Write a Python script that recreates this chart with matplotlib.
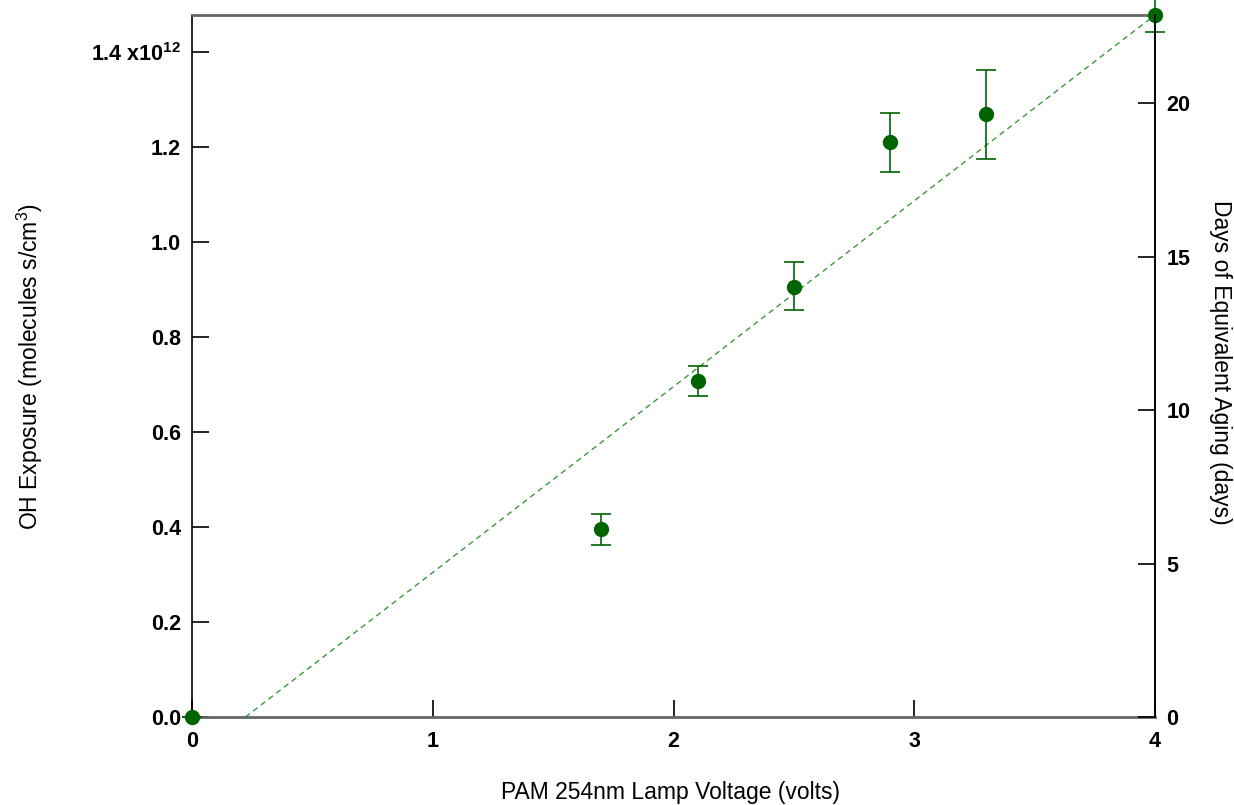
import matplotlib
matplotlib.use("Agg")
import matplotlib.pyplot as plt
import numpy as np

plt.rcParams['font.family'] = ['Liberation Sans', 'DejaVu Sans']
plt.rcParams['mathtext.fontset'] = 'custom'
plt.rcParams['mathtext.rm'] = 'Liberation Sans'
plt.rcParams['mathtext.bf'] = 'Liberation Sans:bold'

voltage = [0.0, 1.7, 2.1, 2.5, 2.9, 3.3, 4.0]
oh_exposure = [0.0, 0.395, 0.707, 0.905, 1.21, 1.27, 1.478]  # x1e12
err_low = [0.0, 0.033, 0.032, 0.048, 0.062, 0.095, 0.036]
err_high = [0.0, 0.032, 0.033, 0.052, 0.062, 0.093, 0.036]
fit_x = [0.222, 4.0]
fit_y = [0.0, 1.478]

y_ticks = [0.0, 0.2, 0.4, 0.6, 0.8, 1.0, 1.2, 1.4]
y_ticklabels = ['0.0', '0.2', '0.4', '0.6', '0.8', '1.0', '1.2', r'1.4 x10$^{\mathbf{12}}$']
x_ticks = [0, 1, 2, 3, 4]
right_ticks = [0, 5, 10, 15, 20]

green = '#006400'

fig = plt.figure(figsize=(12.34, 8.05), dpi=100)
ax = fig.add_axes([0.1556, 0.1093, 0.7804, 0.8721])
ax.plot(fit_x, fit_y, linestyle=(0, (4, 3)), color='#3a9a3a', lw=1.0, zorder=2)
ax.errorbar(voltage, oh_exposure, yerr=[err_low, err_high], fmt='o', color=green,
            ms=10, ecolor=green, elinewidth=1.2, capsize=7, capthick=1.2, zorder=3,
            clip_on=False)

ax.set_xlim(0, 4)
ax.set_ylim(0, 1.478)
ax.set_xticks(x_ticks)
ax.set_yticks(y_ticks)
ax.set_yticklabels(y_ticklabels)
ax.tick_params(axis='both', direction='in', length=12, width=1.2, labelsize=15.5, pad=8)
ax.tick_params(axis='x', pad=10)
for lab in ax.get_xticklabels() + ax.get_yticklabels():
    lab.set_fontweight('bold')
for s in ['top', 'bottom']:
    ax.spines[s].set_color('#666666')
    ax.spines[s].set_linewidth(2)
for s in ['left', 'right']:
    ax.spines[s].set_color('black')
    ax.spines[s].set_linewidth(1.2)

ax.set_xlabel('PAM 254nm Lamp Voltage (volts)', fontsize=16.5, va='center')
ax.xaxis.set_label_coords(0.497, -0.108)
ax.set_ylabel(r'OH Exposure (molecules s/cm$^{3}$)', fontsize=16.5, va='center')
ax.yaxis.set_label_coords(-0.168, 0.499)

ax2 = ax.twinx()
ax2.set_ylim(0, 22.87)
ax2.set_yticks(right_ticks)
ax2.tick_params(axis='y', direction='in', length=12, width=1.2, labelsize=15.5, pad=8)
for lab in ax2.get_yticklabels():
    lab.set_fontweight('bold')
ax2.spines['right'].set_color('black')
ax2.spines['right'].set_linewidth(1.2)
ax2.spines['top'].set_visible(False)
ax2.spines['bottom'].set_visible(False)
ax2.spines['left'].set_visible(False)
ax2.set_ylabel('Days of Equivalent Aging (days)', fontsize=16.5, rotation=-90, va='center')
ax2.yaxis.set_label_coords(1.0675, 0.505)

fig.savefig('out.png', dpi=100)
